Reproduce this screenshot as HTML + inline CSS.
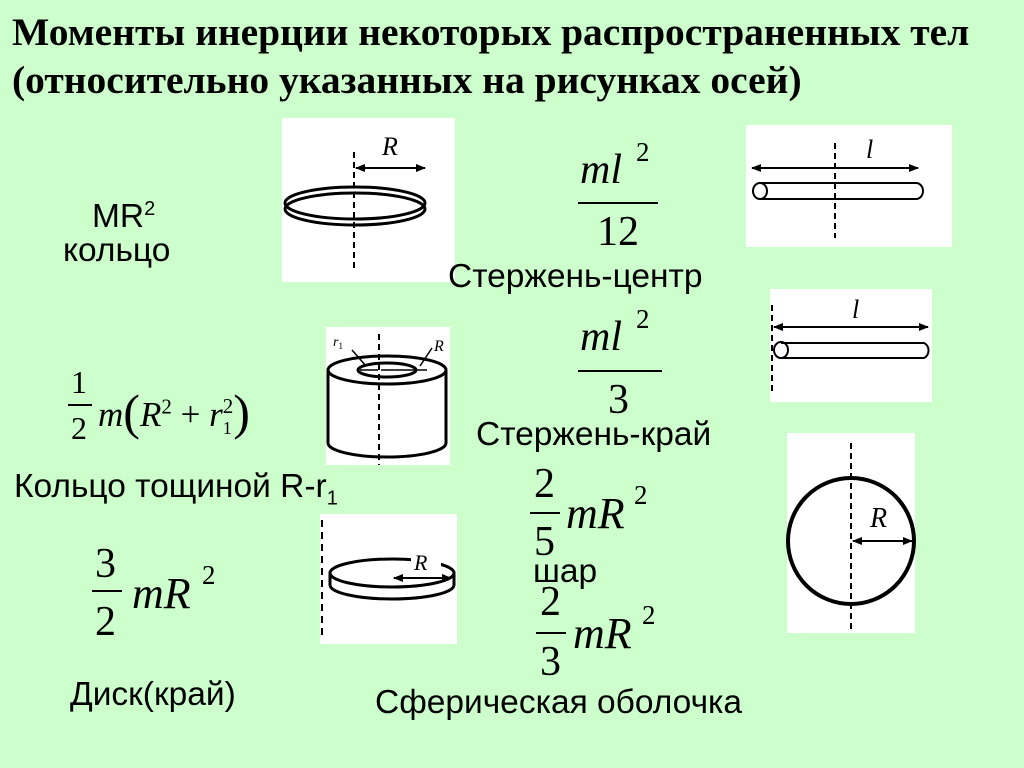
<!DOCTYPE html>
<html><head><meta charset="utf-8"><style>
body{margin:0;width:1024px;height:768px;background:#ccffcc;position:relative;overflow:hidden;font-family:"Liberation Sans",sans-serif;}
.a{position:absolute;white-space:nowrap;}
.t{font-family:"Liberation Serif",serif;font-weight:bold;font-size:39.5px;color:#000;}
.s{font-size:33.5px;}
.m{font-family:"Liberation Serif",serif;font-size:42px;}
.box{position:absolute;background:#fff;}
svg{position:absolute;left:0;top:0;}
.bar{position:absolute;height:2px;background:#000;}
</style></head><body>
<div class="a t" style="left:12px;top:9px;">Моменты инерции некоторых распространенных тел</div>
<div class="a t" style="left:12px;top:57px;">(относительно указанных на рисунках осей)</div>

<div class="box" style="left:282px;top:118px;width:173px;height:164px"></div>
<div class="box" style="left:746px;top:125px;width:206px;height:122px"></div>
<div class="box" style="left:770px;top:289px;width:162px;height:113px"></div>
<div class="box" style="left:787px;top:433px;width:128px;height:200px"></div>
<div class="box" style="left:326px;top:327px;width:124px;height:138px"></div>
<div class="box" style="left:320px;top:514px;width:137px;height:130px"></div>

<svg width="1024" height="768" viewBox="0 0 1024 768">
<defs><marker id="ar" markerWidth="10" markerHeight="8" refX="9" refY="4" orient="auto-start-reverse" markerUnits="userSpaceOnUse"><path d="M0,0 L10,4 L0,8 z" fill="#000"/></marker></defs>
<g stroke="#000" fill="none">
<line x1="354" y1="152" x2="354" y2="268" stroke-width="2" stroke-dasharray="6,4"/>
<line x1="356" y1="168" x2="425" y2="168" stroke-width="2" marker-start="url(#ar)" marker-end="url(#ar)"/>
<ellipse cx="355" cy="203" rx="70" ry="16" stroke-width="3"/>
<ellipse cx="355" cy="209" rx="70" ry="16" stroke-width="3"/>
<line x1="835" y1="143" x2="835" y2="238" stroke-width="2" stroke-dasharray="6,4"/>
<line x1="752" y1="168" x2="918" y2="168" stroke-width="2" marker-start="url(#ar)" marker-end="url(#ar)"/>
<path d="M760,183 H916 A7,8 0 0 1 916,199 H760" stroke-width="2"/>
<ellipse cx="760" cy="191" rx="7" ry="8" stroke-width="2"/>
<line x1="772" y1="305" x2="772" y2="395" stroke-width="2" stroke-dasharray="6,4"/>
<line x1="774" y1="327" x2="928" y2="327" stroke-width="2" marker-start="url(#ar)" marker-end="url(#ar)"/>
<path d="M781,343 H924 A7,8 0 0 1 924,358 H781" stroke-width="2"/>
<ellipse cx="781" cy="350" rx="7" ry="8" stroke-width="2"/>
<line x1="851" y1="443" x2="851" y2="630" stroke-width="2" stroke-dasharray="6,4"/>
<circle cx="851" cy="541" r="63" stroke-width="4"/>
<line x1="853" y1="541" x2="912" y2="541" stroke-width="2" marker-start="url(#ar)" marker-end="url(#ar)"/>
<ellipse cx="387" cy="370" rx="59" ry="14" stroke-width="3"/>
<ellipse cx="387" cy="370" rx="29" ry="7" stroke-width="3"/>
<path d="M328,370 V443 A59,14 0 0 0 446,443 V370" stroke-width="3"/>
<line x1="379" y1="334" x2="379" y2="465" stroke-width="2" stroke-dasharray="6,4"/>
<line x1="360" y1="370" x2="378" y2="370" stroke-width="1.5"/>
<line x1="381" y1="370" x2="427" y2="370" stroke-width="1.5"/>
<line x1="352" y1="350" x2="366" y2="366" stroke-width="1.5"/>
<line x1="432" y1="348" x2="420" y2="366" stroke-width="1.5"/>
<line x1="322" y1="520" x2="322" y2="640" stroke-width="2" stroke-dasharray="7,5"/>
<ellipse cx="392" cy="573" rx="62" ry="14" stroke-width="3"/>
<path d="M330,573 V585 A62,14 0 0 0 454,585 V573" stroke-width="3"/>
</g>
<rect x="411" y="552" width="30" height="14" fill="#fff"/>
<line x1="394" y1="578" x2="451" y2="578" stroke="#000" stroke-width="2" marker-start="url(#ar)" marker-end="url(#ar)"/>
<g font-family="Liberation Serif,serif" font-style="italic" fill="#000">
<text x="382" y="155" font-size="26">R</text>
<text x="866" y="158" font-size="26">l</text>
<text x="852" y="318" font-size="26">l</text>
<text x="870" y="527" font-size="28">R</text>
<text x="414" y="570" font-size="22">R</text>
<text x="333" y="346" font-size="14">r<tspan font-size="9" font-style="normal" dy="3">1</tspan></text>
<text x="434" y="351" font-size="16">R</text>
</g>
</svg>

<div class="a s" style="left:92px;top:198px;">MR<sup style="font-size:20px">2</sup></div>
<div class="a s" style="left:63px;top:232px;">кольцо</div>
<div class="a s" style="left:448px;top:258px;">Стержень-центр</div>
<div class="a s" style="left:476px;top:416px;">Стержень-край</div>
<div class="a s" style="left:14px;top:468px;">Кольцо тощиной R-r<sub style="font-size:20px">1</sub></div>
<div class="a s" style="left:533px;top:553px;">шар</div>
<div class="a s" style="left:70px;top:676px;">Диск(край)</div>
<div class="a s" style="left:375px;top:684px;">Сферическая оболочка</div>

<div class="a m" style="left:580px;top:146px;font-style:italic">ml</div>
<div class="a m" style="left:636px;top:137px;font-size:27px">2</div>
<div class="bar" style="left:578px;top:202px;width:80px"></div>
<div class="a m" style="left:597px;top:208px;">12</div>
<div class="a m" style="left:580px;top:313px;font-style:italic">ml</div>
<div class="a m" style="left:636px;top:304px;font-size:27px">2</div>
<div class="bar" style="left:578px;top:370px;width:84px"></div>
<div class="a m" style="left:608px;top:376px;">3</div>
<div class="a m" style="left:71px;top:364px;font-size:32px">1</div>
<div class="bar" style="left:68px;top:404px;width:24px"></div>
<div class="a m" style="left:71px;top:410px;font-size:32px">2</div>
<div class="a m" style="left:98px;top:380px;font-size:35px"><i>m</i><span style="font-size:50px;position:relative;top:3px">(</span><i>R</i><sup style="font-size:21px">2</sup> + <i>r</i><sub style="font-size:18px">1</sub><sup style="font-size:21px;margin-left:-9px">2</sup><span style="font-size:50px;position:relative;top:3px">)</span></div>
<div class="a m" style="left:95px;top:540px;">3</div>
<div class="bar" style="left:92px;top:590px;width:30px"></div>
<div class="a m" style="left:95px;top:598px;">2</div>
<div class="a m" style="left:132px;top:568px;font-style:italic;font-size:44px">mR</div>
<div class="a m" style="left:202px;top:560px;font-size:27px">2</div>
<div class="a m" style="left:534px;top:460px;">2</div>
<div class="bar" style="left:530px;top:512px;width:30px"></div>
<div class="a m" style="left:534px;top:518px;">5</div>
<div class="a m" style="left:566px;top:488px;font-style:italic;font-size:44px">mR</div>
<div class="a m" style="left:634px;top:480px;font-size:27px">2</div>
<div class="a m" style="left:540px;top:578px;">2</div>
<div class="bar" style="left:536px;top:632px;width:30px"></div>
<div class="a m" style="left:540px;top:638px;">3</div>
<div class="a m" style="left:573px;top:608px;font-style:italic;font-size:44px">mR</div>
<div class="a m" style="left:642px;top:600px;font-size:27px">2</div>
</body></html>
